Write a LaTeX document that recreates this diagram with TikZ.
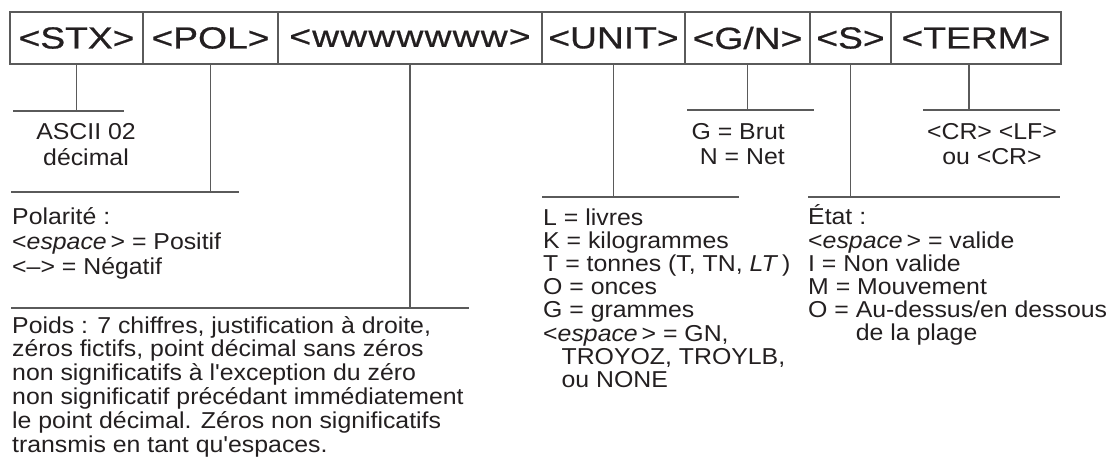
\documentclass[tikz,border=0pt]{standalone}
\usepackage{fontspec}
\setmainfont{Liberation Sans}
\newfontfamily\hdfont[FakeStretch=1.22,FakeBold=0.7]{Liberation Sans}
\newfontfamily\txtfont[FakeStretch=1.08]{Liberation Sans}
\usetikzlibrary{positioning}
\lineskiplimit=-100pt
\definecolor{rulegray}{HTML}{5A5A5A}
\definecolor{inkblack}{HTML}{231F20}
\tikzset{
  cellbox/.style={draw=rulegray,line width=1.2pt,minimum height=52,inner sep=0pt,font=\hdfont\fontsize{30.5}{34}\selectfont,text=inkblack},
  stemline/.style={rulegray,line width=1.2pt},
  notetxt/.style={inner sep=0pt,text=inkblack,font=\txtfont\fontsize{23}{23.2}\selectfont},
}

\begin{document}
\begin{tikzpicture}[x=1pt,y=-1pt]
  \useasboundingbox (0,0) rectangle (1114,470);
  % header cells
  \node[cellbox,minimum width=133] (cSTX) at (76.5,38) {<STX>};
  \node[cellbox,minimum width=135] (cPOL) at (210.5,38) {<POL>};
  \node[cellbox,minimum width=264] (cW) at (410,38) {\addfontfeature{LetterSpace=4}<wwwwwww>};
  \node[cellbox,minimum width=143] (cUNIT) at (613.5,38) {<UNIT>};
  \node[cellbox,minimum width=125] (cGN) at (747.5,38) {<G/N>};
  \node[cellbox,minimum width=81] (cS) at (850.5,38) {<S>};
  \node[cellbox,minimum width=170] (cTERM) at (976,38) {<TERM>};
  % bars
  \coordinate (bSTXl) at (13,111);   \coordinate (bSTXr) at (124,111);
  \coordinate (bPOLl) at (11,192);   \coordinate (bPOLr) at (239,192);
  \coordinate (bWl) at (11,308);     \coordinate (bWr) at (469,308);
  \coordinate (bUNITl) at (542,197); \coordinate (bUNITr) at (739,197);
  \coordinate (bGNl) at (687,110);   \coordinate (bGNr) at (814,110);
  \coordinate (bSl) at (808,197);    \coordinate (bSr) at (1060,197);
  \coordinate (bTERMl) at (923,110); \coordinate (bTERMr) at (1060,110);
  \draw[stemline] (bSTXl) -- (bSTXr);
  \draw[stemline] (bPOLl) -- (bPOLr);
  \draw[stemline] (bWl) -- (bWr);
  \draw[stemline] (bUNITl) -- (bUNITr);
  \draw[stemline] (bGNl) -- (bGNr);
  \draw[stemline] (bSl) -- (bSr);
  \draw[stemline] (bTERMl) -- (bTERMr);
  % stems
  \draw[stemline] (cSTX.south) -- (cSTX.south |- bSTXl);
  \draw[stemline] (cPOL.south) -- (cPOL.south |- bPOLl);
  \draw[stemline] (cW.south) -- (cW.south |- bWl);
  \draw[stemline] (cUNIT.south) -- (cUNIT.south |- bUNITl);
  \draw[stemline] (cGN.south) -- (cGN.south |- bGNl);
  \draw[stemline] (cS.south) -- (cS.south |- bSl);
  \draw[stemline] ([xshift=-7pt]cTERM.south) -- ([xshift=-7pt]cTERM.south |- bTERMl);
  % notes (anchored on the last baseline)
  \node[notetxt,align=center,anchor=base,font=\txtfont\fontsize{23}{26}\selectfont] (tSTX) at (86,166) {ASCII 02\\décimal};
  \node[notetxt,align=left,anchor=base west,font=\txtfont\fontsize{23}{25}\selectfont] (tPOL) at (12,275)
    {Polarité :\\<\textit{espace}\,> = Positif\\<–> = Négatif};
  \node[notetxt,align=left,anchor=base west,font=\txtfont\fontsize{23}{23.8}\selectfont] (tW) at (12,452)
    {Poids : 7 chiffres, justification à droite,\\zéros fictifs, point décimal sans zéros\\non significatifs à l'exception du zéro\\non significatif précédant immédiatement\\le point décimal. Zéros non significatifs\\transmis en tant qu'espaces.};
  \node[notetxt,align=left,anchor=base west] (tUNIT) at (543,387.4)
    {L = livres\\K = kilogrammes\\T = tonnes (T, TN, \textit{LT}\,)\\O = onces\\G = grammes\\<\textit{espace}\,> = GN,\\\hspace*{0.8em}TROYOZ, TROYLB,\\\hspace*{0.8em}ou NONE};
  \node[notetxt,align=right,anchor=base east,font=\txtfont\fontsize{23}{25}\selectfont] (tGN) at (785,165) {G = Brut\\N = Net};
  \node[notetxt,align=left,anchor=base west] (tS) at (808,341)
    {État :\\<\textit{espace}\,> = valide\\I = Non valide\\M = Mouvement\\O = Au-dessus/en dessous\\\phantom{O = }de la plage};
  \node[notetxt,align=center,anchor=base,font=\txtfont\fontsize{23}{25}\selectfont] (tTERM) at (992,165) {<CR> <LF>\\ou <CR>};
\end{tikzpicture}
\end{document}
